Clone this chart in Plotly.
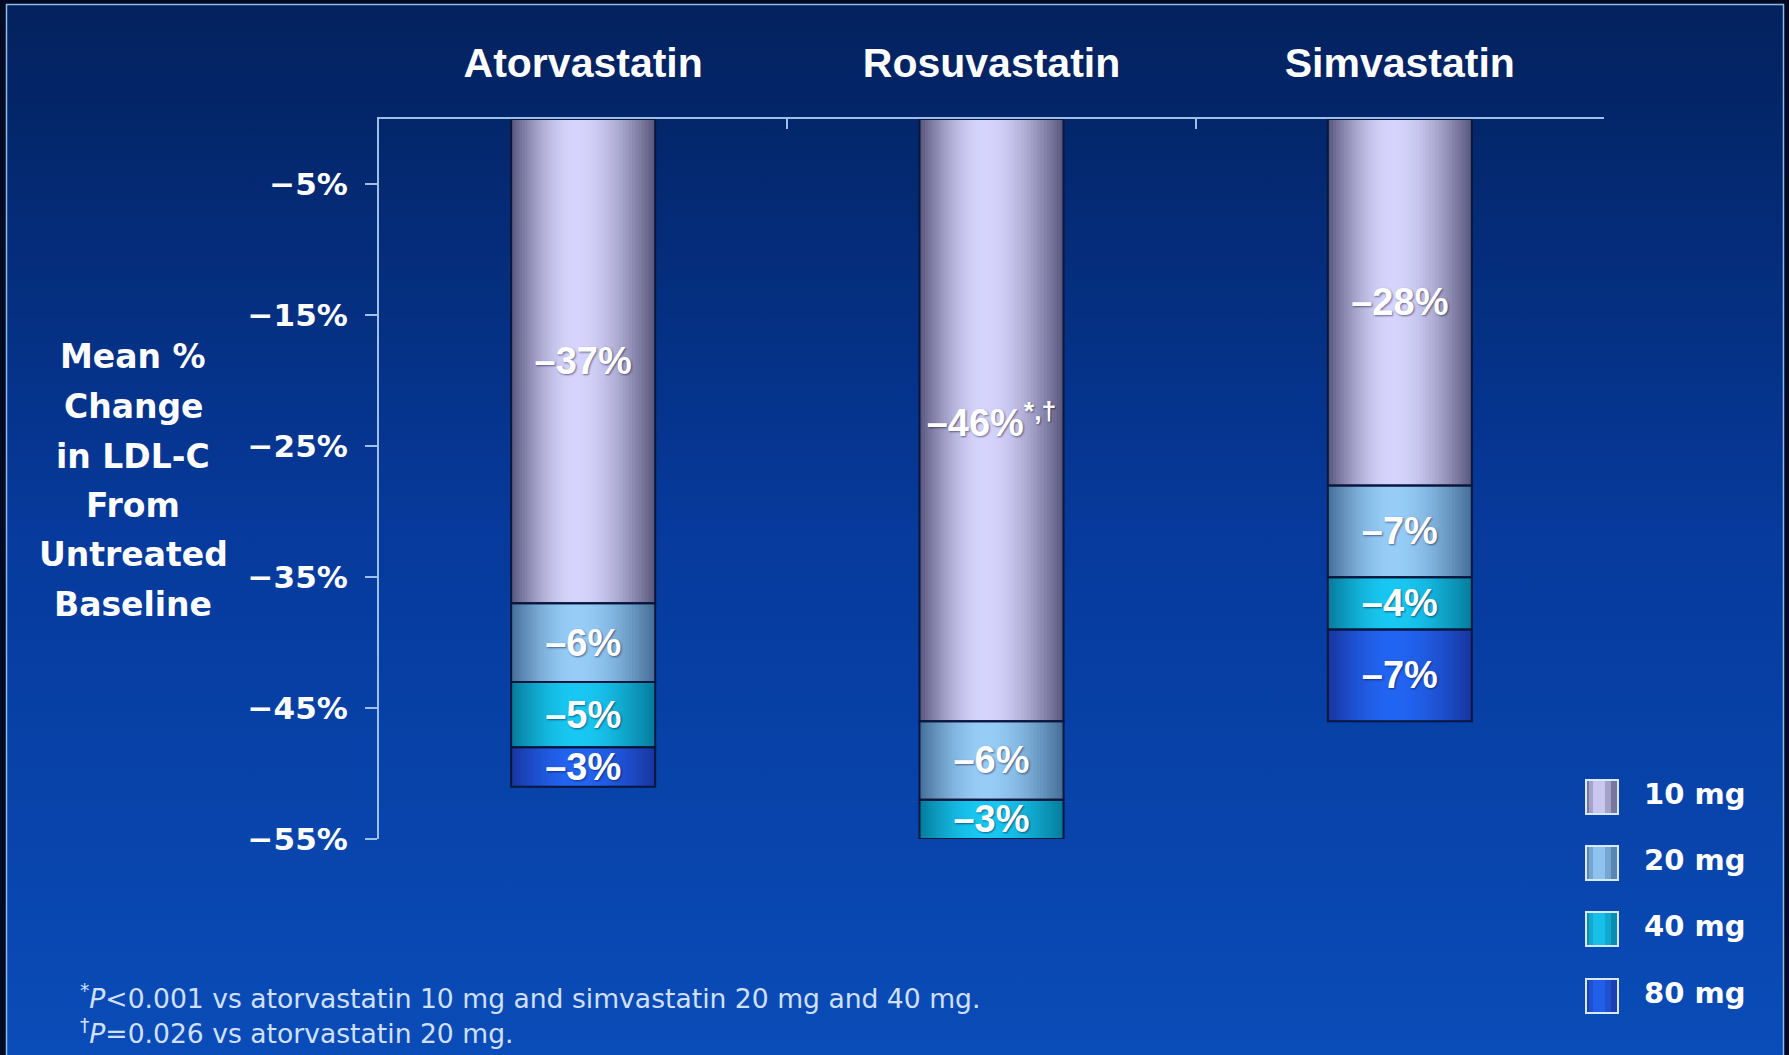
import base64
import math
import plotly.graph_objects as go

# ---------------- data ----------------
categories = ["Atorvastatin", "Rosuvastatin", "Simvastatin"]
dose_names = ["10 mg", "20 mg", "40 mg", "80 mg"]
dose_10mg = [-37, -46, -28]
dose_20mg = [-6, -6, -7]
dose_40mg = [-5, -3, -4]
dose_80mg = [-3, None, -7]
marks_10mg = ["", "*,†", ""]
y_tick_values = [-5, -15, -25, -35, -45, -55]
y_tick_labels = ["−5%", "−15%", "−25%", "−35%", "−45%", "−55%"]
y_title_lines = ["Mean %", "Change", "in LDL-C", "From", "Untreated", "Baseline"]
footnote_lines = [
    "<sup>*</sup><i>P</i>&lt;0.001 vs atorvastatin 10 mg and simvastatin 20 mg and 40 mg.",
    "<sup>†</sup><i>P</i>=0.026 vs atorvastatin 20 mg.",
]

# ---------------- geometry / style ----------------
W, H = 1789, 1055
L, R, T, B = 379, 185, 119, 216
PW, PH = W - L - R, H - T - B


def px(x):
    return (x - L) / PW


def py(y):
    return 1 - (y - T) / PH


series = [dose_10mg, dose_20mg, dose_40mg, dose_80mg]
marks = [marks_10mg, ["", "", ""], ["", "", ""], ["", "", ""]]
edge_colors = [(88, 86, 124), (68, 110, 152), (6, 122, 154), (24, 52, 158)]
center_colors = [(214, 212, 252), (150, 204, 246), (24, 200, 242), (34, 100, 242)]


def lerp(c1, c2, t):
    return "rgb(%d,%d,%d)" % tuple(round(a + (b - a) * t) for a, b in zip(c1, c2))


# cumulative bases for stacking downwards
bases = []
running = [0, 0, 0]
for s in series:
    bases.append(list(running))
    running = [r + (v if v is not None else 0) for r, v in zip(running, s)]

fig = go.Figure()

BW = 0.3527
N = 24
for k in range(N):
    frac = k / N
    w = BW * (1 - frac)
    shift = -0.05 * BW * frac
    t = math.sin(math.pi / 2 * (k + 0.5) / N)
    for i, s in enumerate(series):
        fig.add_trace(go.Bar(
            x=categories, y=s, base=bases[i], width=w, offset=shift - w / 2,
            marker=dict(color=lerp(edge_colors[i], center_colors[i], t), line=dict(width=0)),
            hoverinfo="skip", showlegend=False,
        ))

for i, s in enumerate(series):
    texts = []
    for v, m in zip(s, marks[i]):
        if v is None:
            texts.append(" ")
        else:
            texts.append("–%d%%" % abs(v) + ("<sup>%s</sup>" % m if m else ""))
    fig.add_trace(go.Bar(
        x=categories, y=s, base=bases[i], width=BW, offset=-BW / 2,
        name=dose_names[i],
        marker=dict(color="rgba(0,0,0,0)", line=dict(color="#0a163c", width=2)),
        text=texts, texttemplate="%{text}", textposition="inside",
        insidetextanchor="middle", textangle=0,
        textfont=dict(family="Liberation Sans", size=38, color="white", weight="bold",
                      shadow="1px 1px 2px rgba(0,0,40,0.5)"),
        hoverinfo="skip", showlegend=False,
    ))

# background (gradient slide with border)
svg = f'''<svg xmlns="http://www.w3.org/2000/svg" width="{W}" height="{H}" viewBox="0 0 {W} {H}" preserveAspectRatio="none">
<defs><linearGradient id="g" x1="0" y1="0" x2="0" y2="1">
<stop offset="0" stop-color="#03215d"/><stop offset="0.5" stop-color="#063a9c"/><stop offset="1" stop-color="#0a4cb8"/>
</linearGradient></defs>
<rect width="{W}" height="{H}" fill="#010a22"/>
<rect x="6.5" y="4.5" width="{W - 12}" height="{H}" fill="url(#g)" stroke="#8cbcec" stroke-width="1.5"/>
</svg>'''
src = "data:image/svg+xml;base64," + base64.b64encode(svg.encode()).decode()

shapes = []
annotations = []

# legend (drawn manually to match large swatches)
legend_y = [797, 863, 929, 996]
for i, name in enumerate(dose_names):
    yc = legend_y[i]
    shapes.append(dict(type="rect", xref="paper", yref="paper",
                       x0=px(1586), x1=px(1618), y0=py(yc + 17), y1=py(yc - 17),
                       fillcolor=lerp(edge_colors[i], center_colors[i], 0.25),
                       line=dict(color="#d8e8ff", width=2)))
    shapes.append(dict(type="rect", xref="paper", yref="paper",
                       x0=px(1589), x1=px(1611), y0=py(yc + 16), y1=py(yc - 16),
                       fillcolor=lerp(edge_colors[i], center_colors[i], 0.6), line=dict(width=0)))
    shapes.append(dict(type="rect", xref="paper", yref="paper",
                       x0=px(1593), x1=px(1605), y0=py(yc + 16), y1=py(yc - 16),
                       fillcolor=lerp(edge_colors[i], center_colors[i], 0.9), line=dict(width=0)))
    annotations.append(dict(text=name, xref="paper", yref="paper", x=px(1642), y=py(yc - 3),
                            xanchor="left", yanchor="middle", showarrow=False,
                            font=dict(family="DejaVu Sans", size=29, color="white", weight="bold")))

# y-axis title (horizontal, multi-line)
title_y = [357, 406.5, 456, 505, 554.5, 604]
for line, yc in zip(y_title_lines, title_y):
    annotations.append(dict(text=line, xref="paper", yref="paper", x=px(133), y=py(yc),
                            xanchor="center", yanchor="middle", showarrow=False,
                            font=dict(family="DejaVu Sans", size=33, color="white", weight="bold")))

# footnotes
annotations.append(dict(text="<br>".join(footnote_lines), xref="paper", yref="paper",
                        x=px(78), y=py(1014), xanchor="left", yanchor="middle", align="left",
                        showarrow=False,
                        font=dict(family="DejaVu Sans", size=26.6, color="#d0e0fc")))

axis_col = "#9cc0ea"
fig.update_layout(
    width=W, height=H,
    margin=dict(l=L, r=R, t=T, b=B, pad=0),
    barmode="overlay",
    paper_bgcolor="#010a22",
    plot_bgcolor="rgba(0,0,0,0)",
    uniformtext=dict(minsize=38, mode="show"),
    showlegend=False,
    images=[dict(source=src, xref="paper", yref="paper", x=px(0), y=py(0),
                 sizex=W / PW, sizey=H / PH, xanchor="left", yanchor="top",
                 sizing="stretch", layer="below")],
    shapes=shapes,
    annotations=annotations,
    xaxis=dict(
        side="top", type="category", showline=True, linecolor=axis_col, linewidth=2,
        ticks="inside", tickson="boundaries", ticklen=10, tickwidth=2, tickcolor=axis_col,
        showgrid=False, zeroline=False, ticklabelstandoff=24,
        tickfont=dict(family="Liberation Sans", size=41, color="white", weight="bold"),
        range=[-0.5, 2.5],
    ),
    yaxis=dict(
        range=[-55, 0], showline=True, linecolor=axis_col, linewidth=2,
        ticks="outside", ticklen=12, tickwidth=2, tickcolor=axis_col,
        tickvals=y_tick_values, ticktext=y_tick_labels,
        showgrid=False, zeroline=False, ticklabelstandoff=11,
        tickfont=dict(family="DejaVu Sans", size=31, color="white", weight="bold"),
    ),
)

fig.write_html("out.html")
